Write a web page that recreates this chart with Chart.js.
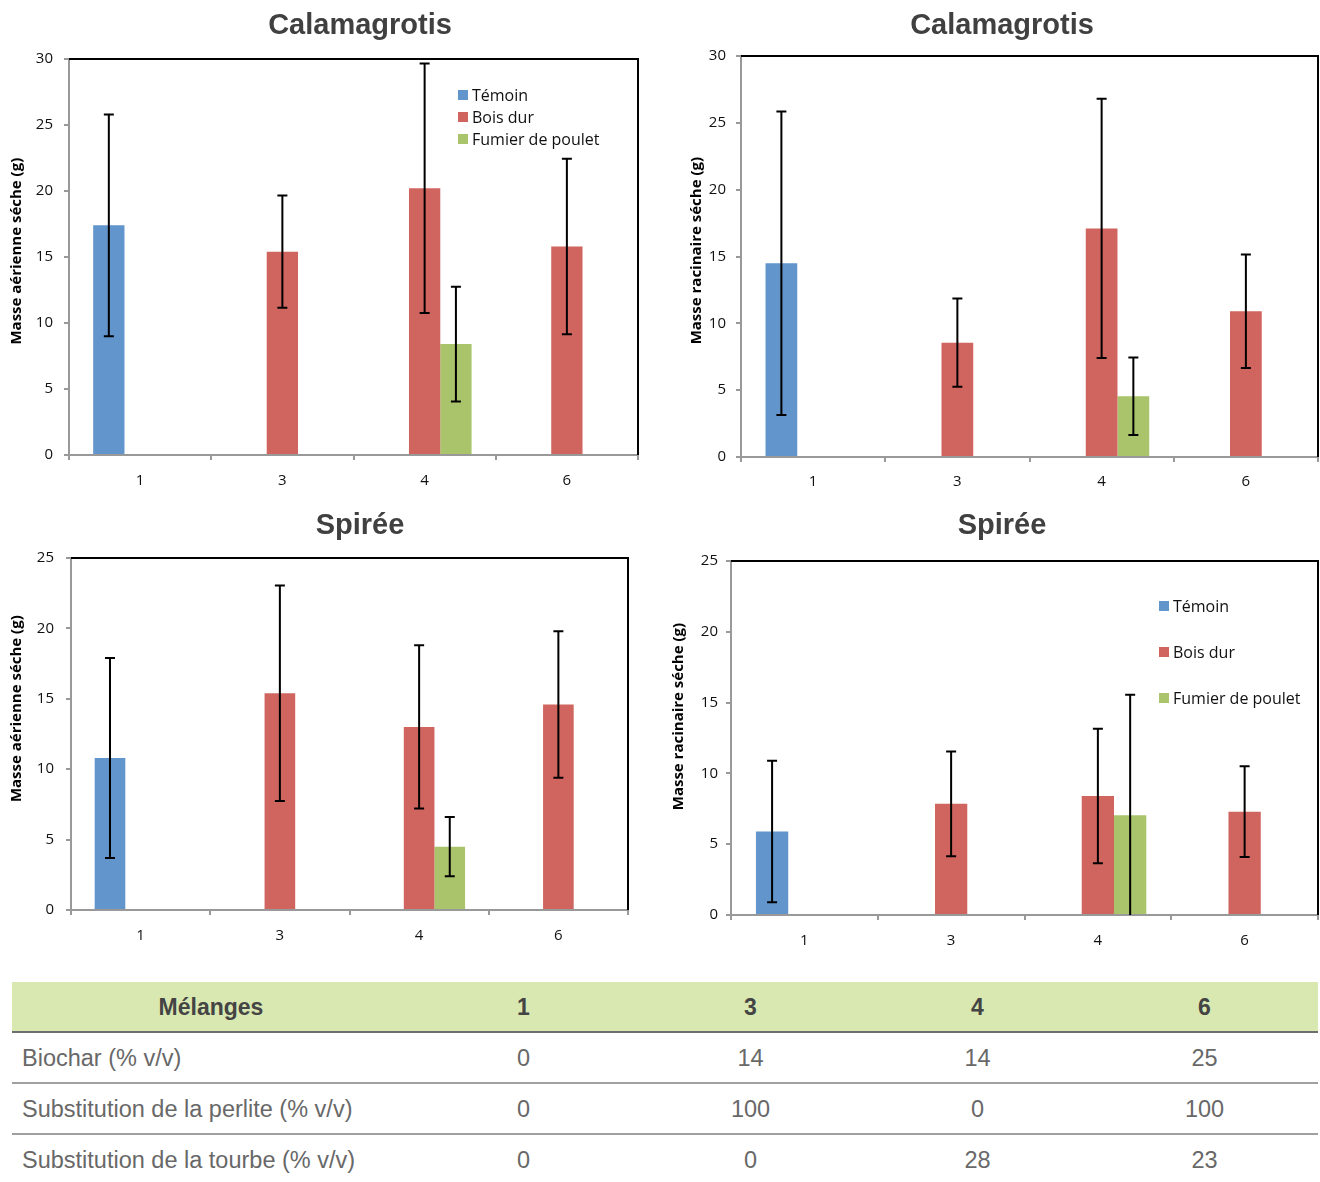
<!DOCTYPE html>
<html>
<head>
<meta charset="utf-8">
<script src="https://cdn.jsdelivr.net/npm/chart.js@4.4.1/dist/chart.umd.min.js"></script>
<style>
  html, body { margin: 0; padding: 0; background: #fff; overflow: hidden; }
  body { width: 1320px; height: 1182px; position: relative; }
  .box { position: absolute; }
  .row { position: absolute; left: 12px; width: 1306px; display: flex; align-items: center;
         font-family: "Liberation Sans", Arial, sans-serif; font-size: 23.5px; color: #686868; }
  .row div { width: 227px; text-align: center; }
  .row div.first { width: 388px; text-align: left; padding-left: 10px; }
  .row.head { background: #d9e8b1; color: #444; font-weight: bold; font-size: 23px; }
  .row.head div.first { text-align: center; padding-left: 0; width: 398px; }
  .line { position: absolute; left: 12px; width: 1306px; height: 2px; }
</style>
</head>
<body>
<div class="box" style="left:0;top:0;width:720px;height:500px"><canvas id="c1"></canvas></div>
<div class="box" style="left:684px;top:0;width:636px;height:500px"><canvas id="c2"></canvas></div>
<div class="box" style="left:0;top:500px;width:720px;height:460px"><canvas id="c3"></canvas></div>
<div class="box" style="left:670px;top:500px;width:664px;height:460px"><canvas id="c4"></canvas></div>
<div id="table"></div>

<script>
const categories = ['1', '3', '4', '6'];
const seriesNames = ['Témoin', 'Bois dur', 'Fumier de poulet'];
const seriesColors = ['#6195cc', '#d0655f', '#a9c46a'];

// Calamagrotis - masse aérienne
const calaAerTemoin = [17.4, null, null, null];
const calaAerBois = [null, 15.4, 20.2, 15.8];
const calaAerFumier = [null, null, 8.4, null];
const calaAerTemoinErr = [8.4, null, null, null];
const calaAerBoisErr = [null, 4.25, 9.45, 6.65];
const calaAerFumierErr = [null, null, 4.35, null];

// Calamagrotis - masse racinaire
const calaRacTemoin = [14.5, null, null, null];
const calaRacBois = [null, 8.55, 17.1, 10.9];
const calaRacFumier = [null, null, 4.55, null];
const calaRacTemoinErr = [11.35, null, null, null];
const calaRacBoisErr = [null, 3.3, 9.7, 4.25];
const calaRacFumierErr = [null, null, 2.9, null];

// Spirée - masse aérienne
const spirAerTemoin = [10.8, null, null, null];
const spirAerBois = [null, 15.4, 13.0, 14.6];
const spirAerFumier = [null, null, 4.5, null];
const spirAerTemoinErr = [7.1, null, null, null];
const spirAerBoisErr = [null, 7.65, 5.8, 5.2];
const spirAerFumierErr = [null, null, 2.1, null];

// Spirée - masse racinaire
const spirRacTemoin = [5.9, null, null, null];
const spirRacBois = [null, 7.85, 8.4, 7.3];
const spirRacFumier = [null, null, 7.05, null];
const spirRacTemoinErr = [5.0, null, null, null];
const spirRacBoisErr = [null, 3.7, 4.75, 3.2];
const spirRacFumierErr = [null, null, 8.5, null];

// table
const tableHead = ['Mélanges', '1', '3', '4', '6'];
const rowLabels = ['Biochar (% v/v)', 'Substitution de la perlite (% v/v)', 'Substitution de la tourbe (% v/v)'];
const biochar = [0, 14, 14, 25];
const substPerlite = [0, 100, 0, 100];
const substTourbe = [0, 0, 28, 23];

const errorBars = {
  id: 'errorBars',
  afterDatasetsDraw(chart) {
    const ctx = chart.ctx, y = chart.scales.y;
    ctx.save();
    ctx.strokeStyle = '#000';
    ctx.lineWidth = 2;
    chart.data.datasets.forEach((ds, di) => {
      const meta = chart.getDatasetMeta(di);
      ds.errors.forEach((e, i) => {
        const v = ds.data[i];
        if (v == null || e == null) return;
        const x = meta.data[i].x;
        const lo = v - e, hi = v + e;
        const yHi = y.getPixelForValue(hi);
        const yLo = y.getPixelForValue(Math.max(lo, y.min));
        ctx.beginPath();
        ctx.moveTo(x, yHi); ctx.lineTo(x, yLo);
        ctx.moveTo(x - 5, yHi); ctx.lineTo(x + 5, yHi);
        if (lo >= y.min) { ctx.moveTo(x - 5, yLo); ctx.lineTo(x + 5, yLo); }
        ctx.stroke();
      });
    });
    ctx.restore();
  }
};

const frame = {
  id: 'frame',
  afterDraw(chart) {
    const {ctx, chartArea: a} = chart;
    ctx.save();
    ctx.strokeStyle = '#000';
    ctx.lineWidth = 2;
    ctx.beginPath();
    ctx.moveTo(a.left, a.top);
    ctx.lineTo(a.right, a.top);
    ctx.lineTo(a.right, a.bottom);
    ctx.stroke();
    ctx.restore();
  }
};

const boxLegend = {
  id: 'boxLegend',
  afterDraw(chart, args, opts) {
    if (!opts.show) return;
    const {ctx, chartArea: a} = chart;
    ctx.save();
    ctx.font = '16px "Open Sans", sans-serif';
    ctx.textBaseline = 'middle';
    chart.data.datasets.forEach((ds, i) => {
      const x = a.left + opts.dx, y = a.top + opts.dy + i * opts.gap;
      ctx.fillStyle = ds.backgroundColor;
      ctx.fillRect(x, y - 5, 10, 10);
      ctx.fillStyle = '#111';
      ctx.fillText(ds.label, x + 14, y + 1);
    });
    ctx.restore();
  }
};

const tickFont = { family: '"Open Sans", sans-serif', size: 15 };

function makeChart(id, title, yTitle, yMax, values, errors, lay, legend) {
  new Chart(document.getElementById(id), {
    type: 'bar',
    data: {
      labels: categories,
      datasets: values.map((d, i) => ({
        label: seriesNames[i],
        data: d,
        errors: errors[i],
        backgroundColor: seriesColors[i],
        categoryPercentage: 0.66,
        barPercentage: 1
      }))
    },
    options: {
      responsive: true,
      maintainAspectRatio: false,
      animation: false,
      layout: { padding: 0 },
      plugins: {
        legend: { display: false },
        tooltip: { enabled: false },
        title: {
          display: true,
          text: title,
          color: '#404040',
          font: { family: '"Liberation Sans", Arial, sans-serif', size: 29, weight: 'bold' },
          padding: { top: 8.6, bottom: lay.titleBottom }
        },
        boxLegend: legend
      },
      scales: {
        x: {
          grid: { drawOnChartArea: false, drawTicks: true, tickLength: 5, color: '#999', lineWidth: 2 },
          border: { color: '#999', width: 2 },
          ticks: { color: '#111', padding: lay.xPad, font: tickFont },
          afterFit: s => { s.width; s.height = lay.xHeight; }
        },
        y: {
          min: 0, max: yMax,
          grid: { drawOnChartArea: false, drawTicks: true, tickLength: 5, color: '#999', lineWidth: 2 },
          border: { color: '#999', width: 2 },
          ticks: { stepSize: 5, color: '#111', padding: lay.yPad, font: tickFont },
          title: {
            display: true,
            // leading spaces lift the rotated title a little, as in the original
            text: '\u00A0'.repeat(lay.titleLift) + yTitle,
            color: '#000',
            font: { family: '"Open Sans", sans-serif', size: 15, weight: 'bold' },
            padding: { top: lay.yTitlePad, bottom: 0 }
          },
          afterFit: s => { s.width = lay.yWidth; }
        },
        // empty right margin box so the title centres on the whole canvas
        yr: {
          position: 'right',
          grid: { display: false },
          border: { display: false },
          ticks: { display: false },
          afterFit: s => { s.width = lay.padRight; }
        }
      }
    },
    plugins: [errorBars, frame, boxLegend]
  });
}

makeChart('c1', 'Calamagrotis', 'Masse aérienne séche (g)', 30,
  [calaAerTemoin, calaAerBois, calaAerFumier],
  [calaAerTemoinErr, calaAerBoisErr, calaAerFumierErr],
  { padRight: 82, titleBottom: 15.6, xHeight: 45, xPad: 11.5, yPad: 11, yWidth: 69, yTitlePad: 8, titleLift: 3 },
  { show: true, dx: 389, dy: 36, gap: 22 });

makeChart('c2', 'Calamagrotis', 'Masse racinaire séche (g)', 30,
  [calaRacTemoin, calaRacBois, calaRacFumier],
  [calaRacTemoinErr, calaRacBoisErr, calaRacFumierErr],
  { padRight: 2, titleBottom: 12.6, xHeight: 43, xPad: 11, yPad: 10, yWidth: 57, yTitlePad: 4, titleLift: 3 },
  { show: false });

makeChart('c3', 'Spirée', 'Masse aérienne séche (g)', 25,
  [spirAerTemoin, spirAerBois, spirAerFumier],
  [spirAerTemoinErr, spirAerBoisErr, spirAerFumierErr],
  { padRight: 92, titleBottom: 14.6, xHeight: 50, xPad: 12, yPad: 12, yWidth: 71, yTitlePad: 8, titleLift: 13 },
  { show: false });

makeChart('c4', 'Spirée', 'Masse racinaire séche (g)', 25,
  [spirRacTemoin, spirRacBois, spirRacFumier],
  [spirRacTemoinErr, spirRacBoisErr, spirRacFumierErr],
  { padRight: 16, titleBottom: 17.6, xHeight: 45, xPad: 12, yPad: 8, yWidth: 61, yTitlePad: 0, titleLift: 11 },
  { show: true, dx: 428, dy: 45, gap: 46 });

// === Table ===
const table = document.getElementById('table');
function addRow(cells, top, height, cls) {
  const row = document.createElement('div');
  row.className = 'row ' + cls;
  row.style.top = top + 'px';
  row.style.height = height + 'px';
  cells.forEach((c, i) => {
    const cell = document.createElement('div');
    if (i === 0) cell.className = 'first';
    cell.textContent = c;
    row.appendChild(cell);
  });
  table.appendChild(row);
}
function addLine(top, color) {
  const l = document.createElement('div');
  l.className = 'line';
  l.style.top = top + 'px';
  l.style.background = color;
  table.appendChild(l);
}
addRow(tableHead, 982, 50, 'head');
addLine(1031, '#6e6e6e');
[biochar, substPerlite, substTourbe].forEach((vals, i) => {
  addRow([rowLabels[i], ...vals], 1034 + i * 51, 49, '');
  if (i < 2) addLine(1082 + i * 51, '#a0a0a0');
});
</script>
</body>
</html>
